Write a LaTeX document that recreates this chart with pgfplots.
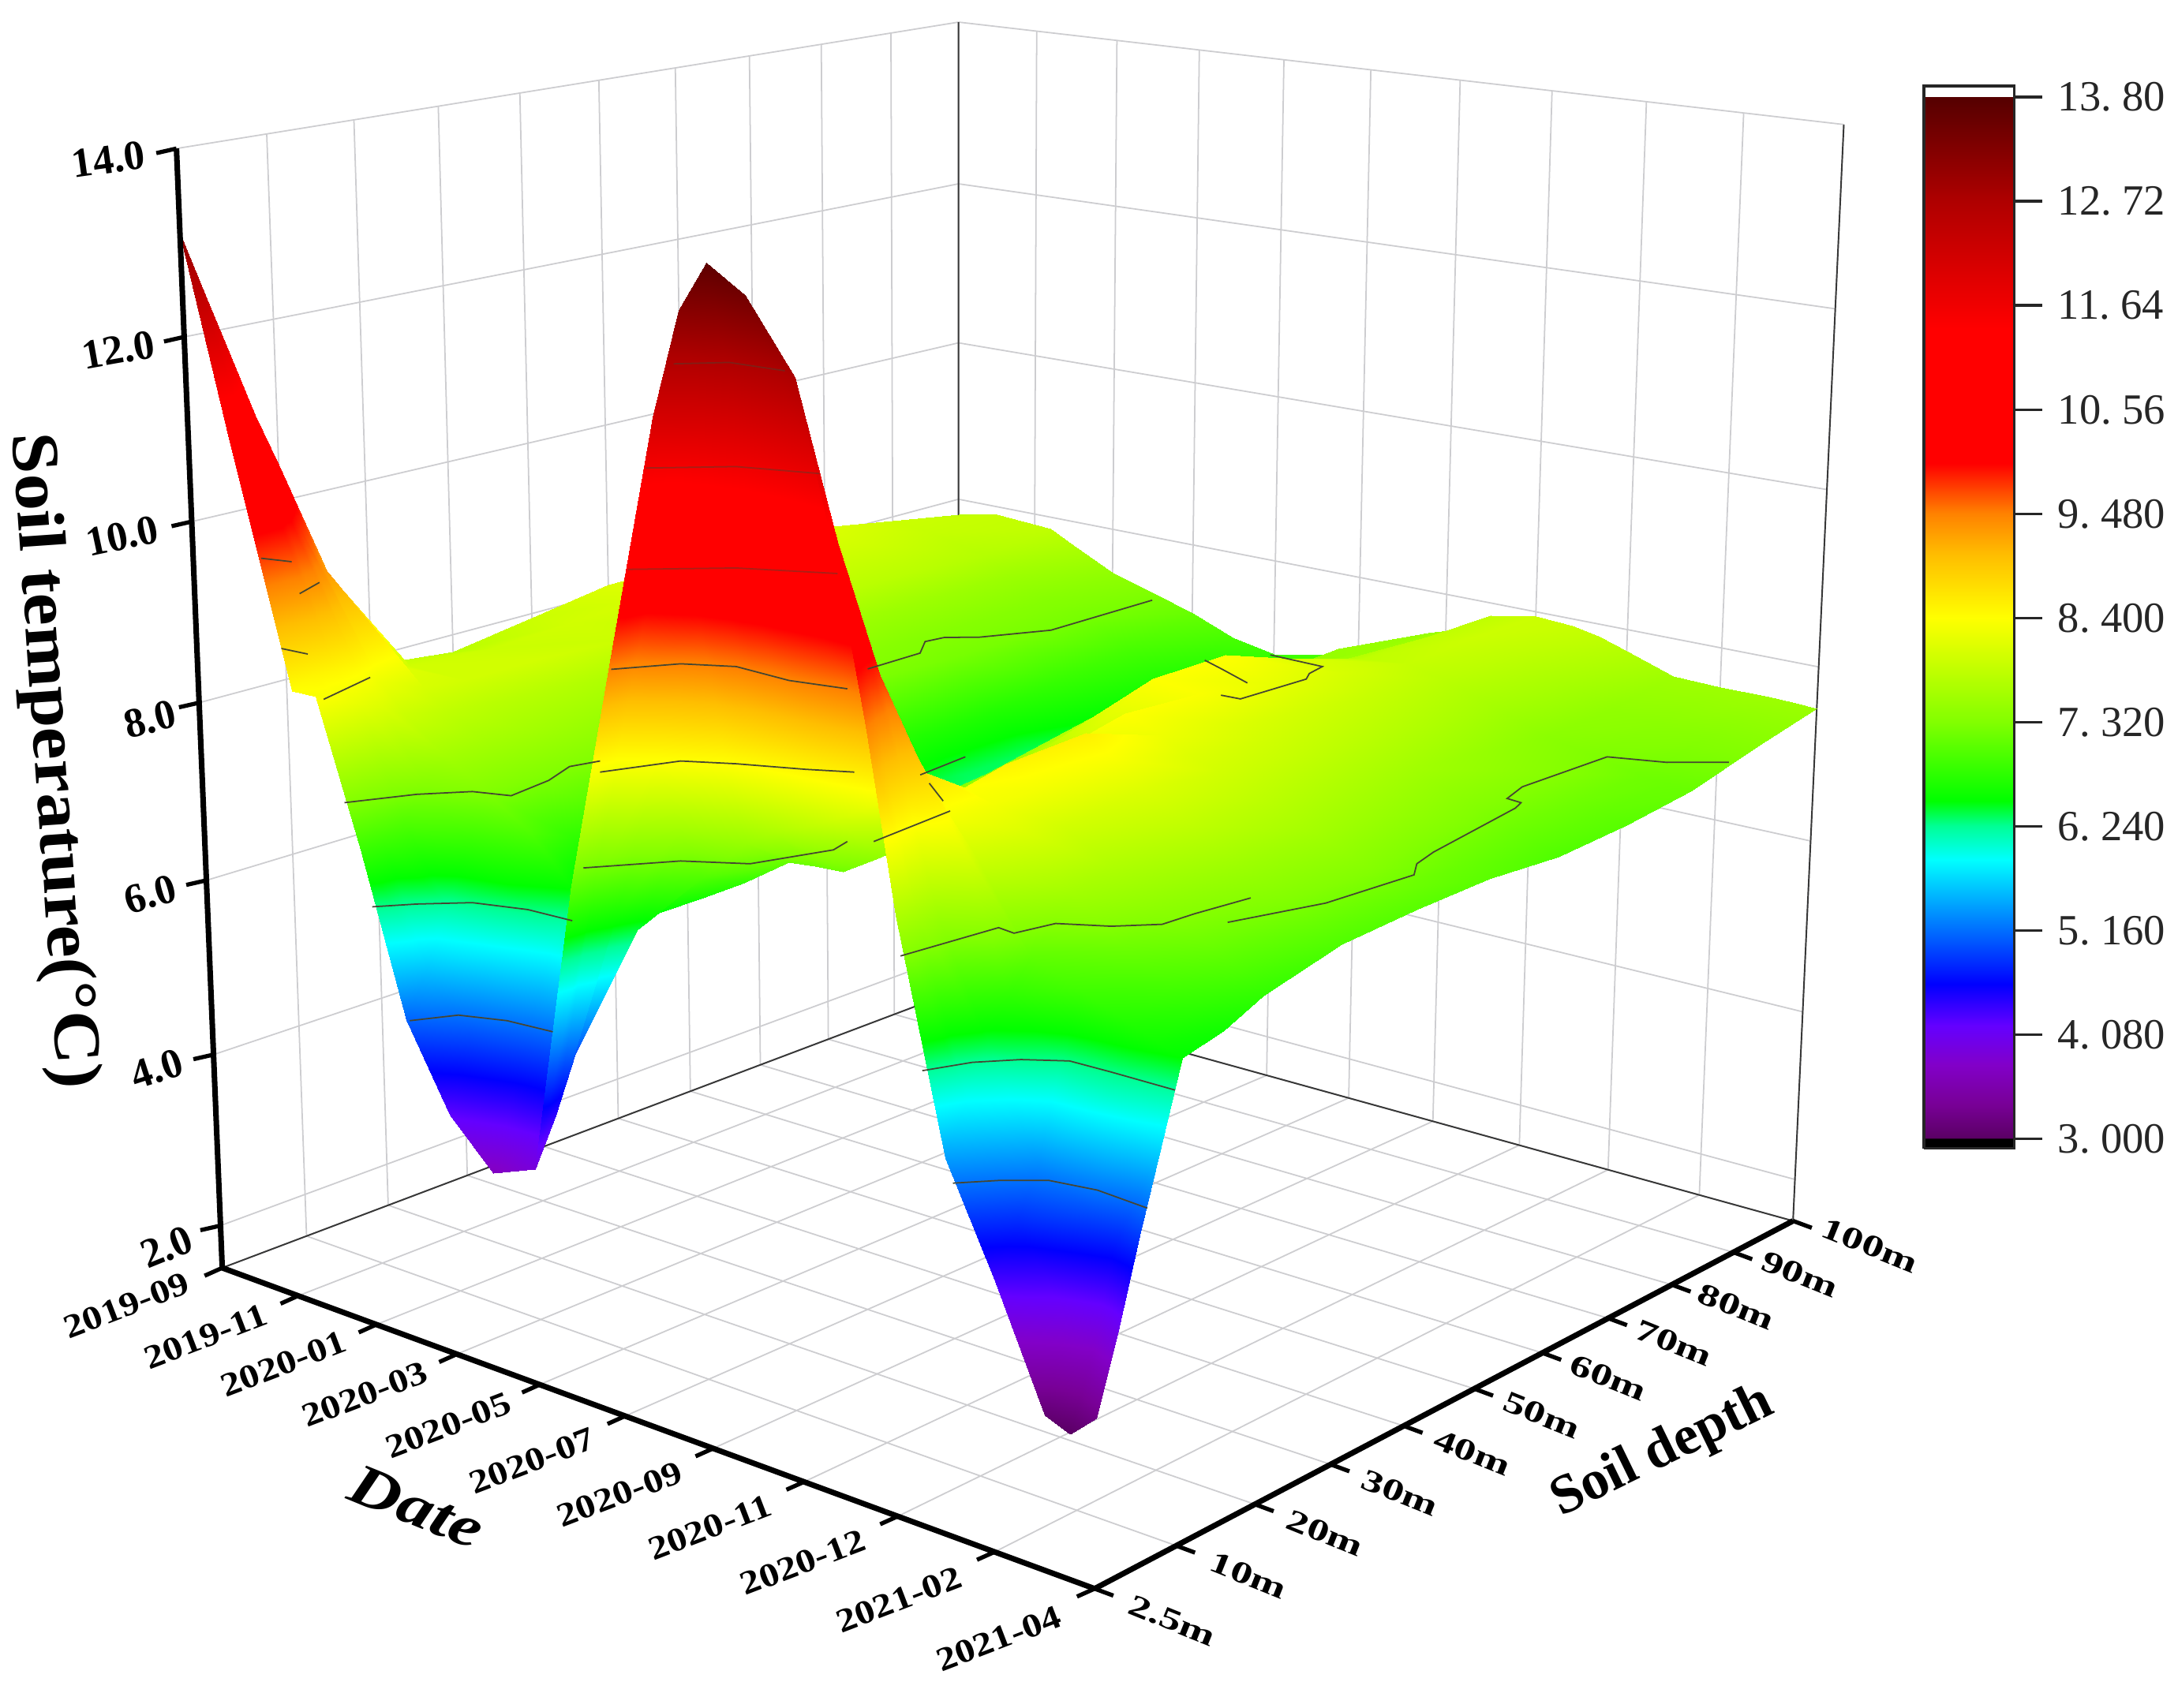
\documentclass[border=0pt]{standalone}
\usepackage{graphicx}
\usepackage{fontspec}
\setmainfont{Liberation Serif}
\usepackage{pgfplots}
\pgfplotsset{compat=1.18}
\pgfplotsset{/pgf/declare function={
 Dn(\xa,\xb,\xc)=1-0.01418*\xa+0.0164*\xb-0.0586*(\xc-1.5)/12.5;
 PX(\xa,\xb,\xc)=(160+51.63*\xa+64.32*\xb-40.4*(\xc-1.5)/12.5)/Dn(\xa,\xb,\xc);
 PY(\xa,\xb,\xc)=(913+6.88*\xa-8.31*\xb-812.3*(\xc-1.5)/12.5)/Dn(\xa,\xb,\xc);
}}
\definecolor{wallgrey}{RGB}{205,205,208}
\definecolor{edgegrey}{RGB}{55,55,55}
\definecolor{contourc}{RGB}{70,70,50}
\tikzset{gridl/.style={color=wallgrey,line width=1pt},
 edgel/.style={color=edgegrey,line width=1.1pt},
 axisl/.style={color=black,line width=4pt},
 tickl/.style={color=black,line width=3pt},
 cont/.style={color=contourc,line width=1pt},
 faint/.style={color=contourc,line width=1pt,opacity=0.45}}
\newcommand\Seg[7]{\addplot3[#1] table[row sep=crcr,x expr={PX(\thisrow{d},\thisrow{j},\thisrow{T})},y expr={PY(\thisrow{d},\thisrow{j},\thisrow{T})},z expr=0]{d j T\\ #2 #3 #4\\ #5 #6 #7\\};}
\newcommand\Tick[5]{\addplot3[tickl] table[row sep=crcr,x expr={PX(#1,#2,#3)+\thisrow{s}*(#4)},y expr={PY(#1,#2,#3)+\thisrow{s}*(#5)},z expr=0]{s\\ 0\\ 1\\};}
\newcommand\Line[2]{\addplot3[#1] table[row sep=crcr,x=x,y=y,z expr=0]{x y\\ #2};}
\newcommand\dlab[3]{\node[rotate=21,font=\fontsize{24}{26}\selectfont\bfseries] at (axis cs:#1,#2,0) {\scalebox{1.18}[1]{#3}};}
\newcommand\slab[3]{\node[rotate=-22,font=\fontsize{22}{24}\selectfont\bfseries] at (axis cs:#1,#2,0) {\scalebox{1.42}[1]{#3}};}
\newcommand\zlab[4]{\node[rotate=#3,font=\fontsize{30}{31}\selectfont\bfseries] at (axis cs:#1,#2,0) {#4};}
\newcommand\clab[3]{\node[anchor=west,text=black!85,font=\fontsize{31}{32}\selectfont] at (axis cs:1478,#1,0) {#2.\kern0.25em#3};}
\begin{document}
\begin{tikzpicture}
\useasboundingbox (0,0) rectangle (1568pt,1229.4pt);
\begin{axis}[at={(0,0)},anchor=south west,scale only axis,width=1568pt,height=1229.4pt,
 hide axis,clip=false,view={0}{90},xmin=0,xmax=1568,ymin=0,ymax=1229.4,zmin=-1,zmax=1,y dir=reverse,
 point meta min=3,point meta max=13.8,
 colormap={soil}{rgb255(300)=(90,0,100); rgb255(335)=(120,0,150); rgb255(376)=(130,0,200); rgb255(417)=(100,0,255); rgb255(460)=(0,0,255); rgb255(516)=(0,110,255); rgb255(589)=(0,255,255); rgb255(624)=(0,255,150); rgb255(650)=(0,255,0); rgb255(732)=(130,255,0); rgb255(840)=(255,255,0); rgb255(905)=(255,190,0); rgb255(948)=(255,130,0); rgb255(1000)=(255,0,0); rgb255(1140)=(255,0,0); rgb255(1272)=(175,0,0); rgb255(1380)=(85,0,0)}]
% walls and floor
\pgfplotsinvokeforeach{0,1,...,10}{\Seg{gridl}{0}{#1}{1.5}{0}{#1}{14}\Seg{gridl}{#1}{10}{1.5}{#1}{10}{14}\Seg{gridl}{0}{#1}{1.5}{10}{#1}{1.5}\Seg{gridl}{#1}{0}{1.5}{#1}{10}{1.5}}
\pgfplotsinvokeforeach{2,4,...,14}{\Seg{gridl}{0}{0}{#1}{0}{10}{#1}\Seg{gridl}{0}{10}{#1}{10}{10}{#1}}
\Seg{edgel}{0}{0}{1.5}{0}{10}{1.5}
\Seg{edgel}{0}{10}{1.5}{10}{10}{1.5}
\Seg{edgel}{0}{10}{1.5}{0}{10}{14}
\Seg{edgel}{10}{10}{1.5}{10}{10}{14}
% surface
\addplot3[surf,shader=interp,z buffer=none,mesh/rows=15,mesh/cols=24,mesh/ordering=x varies,point meta=\thisrow{T}]
 table[row sep=crcr,x expr={PX(\thisrow{d},\thisrow{j},\thisrow{T})},y expr={PY(\thisrow{d},\thisrow{j},\thisrow{T})},z expr=0]{d j T\\
0 10 7.8\\ .5 10 7.9\\ 1.2 10 7.85\\ 1.5 10 7.7\\ 2 10 7.45\\ 2.5 10 7.3\\ 3 10 7.15\\ 3.5 10 6.95\\ 4 10 6.85\\ 4.5 10 6.95\\ 5 10 7.1\\ 5.5 10 7.35\\ 5.8 10 7.5\\ 6.1 10 7.6\\ 6.5 10 7.85\\ 7 10 7.95\\ 7.4 10 7.92\\ 7.7 10 7.85\\ 8 10 7.75\\ 8.5 10 7.57\\ 9 10 7.55\\ 9.5 10 7.55\\ 9.75 10 7.54\\ 10 10 7.53\\
0 9 7.95\\ .5 9 7.9\\ 1.2 9 7.75\\ 1.5 9 7.55\\ 2 9 7.35\\ 2.5 9 7.25\\ 3 9 6.95\\ 3.5 9 6.7\\ 4 9 6.6\\ 4.5 9 6.75\\ 5 9 7.1\\ 5.5 9 7.5\\ 5.8 9 7.52\\ 6.1 9 7.55\\ 6.5 9 7.85\\ 7 9 7.95\\ 7.4 9 7.85\\ 7.7 9 7.75\\ 8 9 7.65\\ 8.5 9 7.45\\ 9 9 7.4\\ 9.5 9 7.35\\ 9.75 9 7.35\\ 10 9 7.35\\
0 8 8.1\\ .5 8 8.0\\ 1.2 8 7.8\\ 1.5 8 7.55\\ 2 8 7.35\\ 2.5 8 7.25\\ 3 8 6.85\\ 3.5 8 6.55\\ 4 8 6.45\\ 4.5 8 6.6\\ 5 8 7.05\\ 5.5 8 7.45\\ 5.8 8 7.6\\ 6.1 8 7.7\\ 6.5 8 7.85\\ 7 8 7.9\\ 7.4 8 7.8\\ 7.7 8 7.7\\ 8 8 7.6\\ 8.5 8 7.4\\ 9 8 7.3\\ 9.5 8 7.2\\ 9.75 8 7.17\\ 10 8 7.15\\
0 7 8.1\\ .5 7 8.0\\ 1.2 7 7.8\\ 1.5 7 7.55\\ 2 7 7.35\\ 2.5 7 7.25\\ 3 7 6.7\\ 3.5 7 6.35\\ 4 7 6.3\\ 4.5 7 6.5\\ 5 7 7.0\\ 5.5 7 7.5\\ 5.8 7 7.7\\ 6.1 7 7.85\\ 6.5 7 8.1\\ 7 7 8.05\\ 7.4 7 7.9\\ 7.7 7 7.8\\ 8 7 7.7\\ 8.5 7 7.5\\ 9 7 7.4\\ 9.5 7 7.2\\ 9.75 7 7.12\\ 10 7 7.05\\
0 6 8.1\\ .5 6 8.0\\ 1.2 6 7.85\\ 1.5 6 7.6\\ 2 6 7.4\\ 2.5 6 7.28\\ 3 6 6.7\\ 3.5 6 6.35\\ 4 6 6.25\\ 4.5 6 6.45\\ 5 6 7.0\\ 5.5 6 7.5\\ 5.8 6 7.85\\ 6.1 6 8.15\\ 6.5 6 8.4\\ 7 6 8.2\\ 7.4 6 8.0\\ 7.7 6 7.9\\ 8 6 7.8\\ 8.5 6 7.6\\ 9 6 7.4\\ 9.5 6 7.2\\ 9.75 6 7.1\\ 10 6 7.0\\
0 5 8.1\\ .5 5 8.05\\ 1.2 5 7.9\\ 1.5 5 7.65\\ 2 5 7.45\\ 2.5 5 7.3\\ 3 5 6.85\\ 3.5 5 6.45\\ 4 5 6.3\\ 4.5 5 6.5\\ 5 5 7.0\\ 5.5 5 7.5\\ 5.8 5 7.8\\ 6.1 5 8.0\\ 6.5 5 8.4\\ 7 5 8.35\\ 7.4 5 8.1\\ 7.7 5 8.0\\ 8 5 7.9\\ 8.5 5 7.7\\ 9 5 7.5\\ 9.5 5 7.25\\ 9.75 5 7.15\\ 10 5 7.07\\
0 4 7.95\\ .5 4 8.0\\ 1.2 4 7.95\\ 1.5 4 7.7\\ 2 4 7.5\\ 2.5 4 7.32\\ 3 4 7.0\\ 3.5 4 6.6\\ 4 4 6.4\\ 4.5 4 6.6\\ 5 4 7.0\\ 5.5 4 7.4\\ 5.8 4 7.6\\ 6.1 4 7.8\\ 6.5 4 8.0\\ 7 4 8.4\\ 7.4 4 8.25\\ 7.7 4 8.1\\ 8 4 8.0\\ 8.5 4 7.8\\ 9 4 7.6\\ 9.5 4 7.35\\ 9.75 4 7.2\\ 10 4 7.05\\
0 3 7.8\\ .5 3 7.95\\ 1.2 3 8.0\\ 1.5 3 7.75\\ 2 3 7.55\\ 2.5 3 7.32\\ 3 3 7.05\\ 3.5 3 6.7\\ 4 3 6.5\\ 4.5 3 6.65\\ 5 3 6.95\\ 5.5 3 7.25\\ 5.8 3 7.4\\ 6.1 3 7.55\\ 6.5 3 7.7\\ 7 3 8.2\\ 7.4 3 8.55\\ 7.7 3 8.35\\ 8 3 8.1\\ 8.5 3 7.85\\ 9 3 7.55\\ 9.5 3 7.3\\ 9.75 3 7.15\\ 10 3 7.0\\
0 2 7.9\\ .5 2 8.0\\ 1.2 2 8.0\\ 1.5 2 7.8\\ 2 2 7.6\\ 2.5 2 7.32\\ 3 2 6.95\\ 3.5 2 6.5\\ 4 2 6.4\\ 4.5 2 6.6\\ 5 2 6.9\\ 5.5 2 7.2\\ 5.8 2 7.25\\ 6.1 2 7.3\\ 6.5 2 7.5\\ 7 2 7.9\\ 7.4 2 8.5\\ 7.7 2 8.3\\ 8 2 8.0\\ 8.5 2 7.7\\ 9 2 7.4\\ 9.5 2 7.15\\ 9.75 2 7.0\\ 10 2 6.8\\
0 1.5 9.1\\ .5 1.5 8.2\\ 1.2 1.5 8.05\\ 1.5 1.5 7.85\\ 2 1.5 7.6\\ 2.5 1.5 7.3\\ 3 1.5 6.8\\ 3.5 1.5 6.2\\ 4 1.5 6.3\\ 4.5 1.5 6.5\\ 5 1.5 6.8\\ 5.5 1.5 7.15\\ 5.8 1.5 7.18\\ 6.1 1.5 7.2\\ 6.5 1.5 7.45\\ 7 1.5 7.9\\ 7.4 1.5 8.4\\ 7.7 1.5 8.3\\ 8 1.5 8.1\\ 8.5 1.5 7.6\\ 9 1.5 7.2\\ 9.5 1.5 6.95\\ 9.75 1.5 6.8\\ 10 1.5 6.6\\
0 1 10.4\\ .5 1 9.4\\ 1.2 1 8.25\\ 1.5 1 7.95\\ 2 1 7.6\\ 2.5 1 7.3\\ 3 1 7.0\\ 3.5 1 6.5\\ 4 1 6.3\\ 4.5 1 6.5\\ 5 1 7.0\\ 5.5 1 7.5\\ 5.8 1 7.7\\ 6.1 1 7.8\\ 6.5 1 8.0\\ 7 1 8.3\\ 7.4 1 8.7\\ 7.7 1 8.3\\ 8 1 7.9\\ 8.5 1 7.1\\ 9 1 6.9\\ 9.5 1 6.7\\ 9.75 1 6.6\\ 10 1 6.5\\
0 .75 11.0\\ .5 .75 9.9\\ 1.2 .75 8.45\\ 1.5 .75 8.1\\ 2 .75 7.35\\ 2.5 .75 6.8\\ 3 .75 6.5\\ 3.5 .75 6.0\\ 4 .75 5.9\\ 4.5 .75 6.4\\ 5 .75 7.6\\ 5.5 .75 8.5\\ 5.8 .75 8.75\\ 6.1 .75 8.9\\ 6.5 .75 9.0\\ 7 .75 9.2\\ 7.4 .75 9.2\\ 7.7 .75 8.7\\ 8 .75 8.2\\ 8.5 .75 6.8\\ 9 .75 6.2\\ 9.5 .75 6.1\\ 9.75 .75 5.9\\ 10 .75 5.7\\
0 .5 11.7\\ .5 .5 10.4\\ 1.2 .5 8.5\\ 1.5 .5 8.2\\ 2 .5 7.0\\ 2.5 .5 6.2\\ 3 .5 5.8\\ 3.5 .5 5.3\\ 4 .5 5.0\\ 4.5 .5 6.6\\ 5 .5 8.4\\ 5.5 .5 9.9\\ 5.8 .5 10.3\\ 6.1 .5 10.5\\ 6.5 .5 10.6\\ 7 .5 10.4\\ 7.4 .5 9.8\\ 7.7 .5 8.6\\ 8 .5 7.5\\ 8.5 .5 6.4\\ 9 .5 5.3\\ 9.5 .5 5.0\\ 9.75 .5 4.7\\ 10 .5 4.9\\
0 .25 12.4\\ .5 .25 10.9\\ 1.2 .25 8.5\\ 1.5 .25 8.3\\ 2 .25 6.9\\ 2.5 .25 5.6\\ 3 .25 5.0\\ 3.5 .25 4.5\\ 4 .25 4.4\\ 4.5 .25 7.0\\ 5 .25 9.4\\ 5.5 .25 11.4\\ 5.8 .25 12.0\\ 6.1 .25 12.4\\ 6.5 .25 12.2\\ 7 .25 11.7\\ 7.4 .25 10.4\\ 7.7 .25 8.9\\ 8 .25 7.6\\ 8.5 .25 5.9\\ 9 .25 4.8\\ 9.5 .25 4.0\\ 9.75 .25 3.7\\ 10 .25 4.0\\
0 0 13.1\\ .5 0 11.1\\ 1.2 0 8.4\\ 1.5 0 8.4\\ 2 0 6.85\\ 2.5 0 5.1\\ 3 0 4.2\\ 3.5 0 3.7\\ 4 0 3.9\\ 4.5 0 7.1\\ 5 0 9.6\\ 5.5 0 12.1\\ 5.8 0 13.2\\ 6.1 0 13.7\\ 6.5 0 13.45\\ 7 0 12.75\\ 7.4 0 11.1\\ 7.7 0 9.5\\ 8 0 7.7\\ 8.5 0 5.4\\ 9 0 4.3\\ 9.5 0 3.1\\ 9.75 0 3.0\\ 10 0 3.25\\
};
% contour lines at the colour-scale levels
\Line{cont}{268 653\\ 300 651\\ 340 650\\ 380 655\\ 412 663\\}
\Line{cont}{295 735\\ 330 731\\ 365 735\\ 398 743\\}
\Line{cont}{248 578\\ 300 572\\ 340 570\\ 368 573\\ 395 562\\ 410 552\\ 432 548\\}
\Line{cont}{432 556\\ 490 548\\ 530 550\\ 580 554\\ 615 556\\}
\Line{cont}{420 625\\ 490 620\\ 540 622\\ 600 612\\ 610 606\\}
\Line{cont}{629 606\\ 684 584\\}
\Line{cont}{440 482\\ 490 478\\ 530 480\\ 568 490\\ 610 496\\}
\Line{faint}{452 410\\ 530 409\\ 603 413\\}
\Line{faint}{465 337\\ 530 336\\ 590 341\\}
\Line{faint}{485 262\\ 525 261\\ 565 267\\}
\Line{cont}{188 402\\ 210 404.5\\}
\Line{cont}{215.7 427.5\\ 230 419.4\\}
\Line{cont}{202.6 467\\ 221.6 471\\}
\Line{cont}{233 503.6\\ 266.5 487.8\\}
\Line{cont}{624.7 481.7\\ 662.4 470.3\\ 666 462\\ 680 459\\ 704.5 458.9\\ 756.6 453.8\\ 829.5 432.2\\}
\Line{cont}{648.3 688.4\\ 718.9 668\\ 730 672\\ 760 665\\ 800 667\\ 836.7 665.6\\ 860 658\\ 900.4 646.6\\}
\Line{cont}{883.8 664.2\\ 954.5 650.3\\ 1018 630\\ 1020 622\\ 1032 613.6\\ 1091 581.9\\ 1095 578\\ 1085 575\\ 1095.9 566.6\\ 1157 545\\ 1200 549\\ 1244.6 548.9\\}
\Line{cont}{879 500.6\\ 893 503.3\\ 940.4 489\\ 942.6 485\\ 952 480\\ 914.5 471.6\\}
\Line{cont}{867.3 475.4\\ 880 482\\ 898 491.8\\}
\Line{cont}{669 564\\ 679 576.8\\}
\Line{cont}{662.5 558\\ 695 545\\}
\Line{cont}{664 771\\ 700 765\\ 735 763\\ 770 764\\ 800 772\\ 846 785\\}
\Line{cont}{686 852\\ 720 850\\ 755 850\\ 790 857\\ 826 870\\}
% axes
\Seg{axisl}{0}{0}{1.5}{0}{0}{14}
\Seg{axisl}{0}{0}{1.5}{10}{0}{1.5}
\Seg{axisl}{10}{0}{1.5}{10}{10}{1.5}
\pgfplotsinvokeforeach{2,4,...,14}{\Tick{0}{0}{#1}{-14.5}{3.3}}
\pgfplotsinvokeforeach{0,1,...,10}{\Tick{#1}{0}{1.5}{-12.7}{5.7}\Tick{10}{#1}{1.5}{13.5}{5}}
% labels
\zlab{78}{115}{8}{14.0}\zlab{85}{252}{10}{12.0}\zlab{88}{386}{12}{10.0}\zlab{108}{518}{14}{8.0}\zlab{108}{644}{16}{6.0}\zlab{113}{770}{18}{4.0}\zlab{120}{898}{22}{2.0}
\dlab{91}{940}{2019-09}\dlab{148}{962.6}{2019-11}\dlab{204}{982}{2020-01}\dlab{262.5}{1004}{2020-03}\dlab{322.6}{1026.5}{2020-05}\dlab{383}{1052}{2020-07}\dlab{446}{1076}{2020-09}\dlab{511}{1100}{2020-11}\dlab{578}{1125}{2020-12}\dlab{647}{1152}{2021-02}\dlab{719}{1180}{2021-04}
\slab{844}{1167}{2.5m}\slab{899}{1134.5}{10m}\slab{954}{1104}{20m}\slab{1008}{1075}{30m}\slab{1060}{1046}{40m}\slab{1110}{1019}{50m}\slab{1158}{992}{60m}\slab{1205}{967}{70m}\slab{1250}{941}{80m}\slab{1295.6}{917.6}{90m}\slab{1346}{896.8}{100m}
\node[rotate=-86,font=\fontsize{48}{50}\selectfont\bfseries] at (axis cs:37,548,0) {\scalebox{1.1}[1]{Soil temperature(°C)}};
\node[rotate=-22,font=\fontsize{42}{44}\selectfont\bfseries\itshape] at (axis cs:300,1085,0) {\scalebox{1.22}[1]{Date}};
\node[rotate=26,font=\fontsize{40}{42}\selectfont\bfseries] at (axis cs:1197,1046,0) {Soil depth};
% colour scale
\addplot3[surf,shader=interp,z buffer=none,mesh/rows=2,mesh/cols=2,mesh/ordering=x varies,point meta=\thisrow{T}] table[row sep=crcr,x=x,y=y,z expr=0]{x y T\\ 1385 820 3\\ 1450 820 3\\ 1385 70 13.8\\ 1450 70 13.8\\};
\addplot3[draw=none,fill=black] table[row sep=crcr,x=x,y=y,z expr=0]{x y\\ 1385 820\\ 1450 820\\ 1450 827\\ 1385 827\\ 1385 820\\};
\Line{edgel,line width=2pt,color=black!85}{1385 827\\ 1450 827\\ 1450 62\\ 1385 62\\ 1385 827\\}
\pgfplotsinvokeforeach{70,145,...,820}{\Line{color=black!85,line width=2pt}{1450 #1\\ 1470 #1\\}}
\clab{70}{13}{80}\clab{145}{12}{72}\clab{220}{11}{64}\clab{295}{10}{56}\clab{370}{9}{480}\clab{445}{8}{400}\clab{520}{7}{320}\clab{595}{6}{240}\clab{670}{5}{160}\clab{745}{4}{080}\clab{820}{3}{000}
\end{axis}
\end{tikzpicture}
\end{document}
